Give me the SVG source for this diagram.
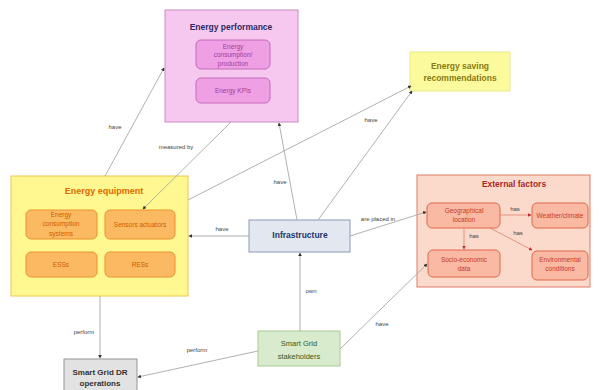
<svg xmlns="http://www.w3.org/2000/svg" width="601" height="390" viewBox="0 0 601 390">
<style>
text{font-family:"Liberation Sans",Arial,sans-serif;text-anchor:middle}
.t{font-weight:bold;font-size:8.5px}
.s{font-size:6.5px}
.l{font-size:6px;fill:#444}
.c{fill:none;stroke:#a8a8a8;stroke-width:0.9}
.r{fill:none;stroke:#e08a7a;stroke-width:0.9}
</style>
<defs>
<marker id="a" viewBox="0 0 6 6" refX="5" refY="3" markerWidth="4" markerHeight="4" orient="auto"><path d="M0,0 L6,3 L0,6 z" fill="#333"/></marker>
<marker id="ar" viewBox="0 0 6 6" refX="5" refY="3" markerWidth="4" markerHeight="4" orient="auto"><path d="M0,0 L6,3 L0,6 z" fill="#c03030"/></marker>
</defs>
<rect width="601" height="390" fill="#fff"/>

<g id="energy-performance">
<rect x="165" y="10" width="133" height="112" fill="#f7c8ef" stroke="#c98ac2"/>
<text class="t" x="231" y="30" fill="#2b2b66">Energy performance</text>
<rect x="196" y="40" width="74" height="29" rx="5" fill="#ef9fe4" stroke="#c46ab9"/>
<text class="s" x="233" y="48.5" fill="#a2409a">Energy</text>
<text class="s" x="233" y="57" fill="#a2409a">consumption/</text>
<text class="s" x="233" y="66" fill="#a2409a">production</text>
<rect x="196" y="78" width="74" height="25" rx="5" fill="#ef9fe4" stroke="#c46ab9"/>
<text class="s" x="233" y="92.5" fill="#a2409a">Energy KPIs</text>
</g>

<g id="energy-saving-recommendations">
<rect x="410" y="52" width="100" height="39" fill="#fbfa9c" stroke="#ecea8a"/>
<text class="t" x="460" y="69" fill="#8a7a10">Energy saving</text>
<text class="t" x="460" y="81" fill="#8a7a10">recommendations</text>
</g>

<g id="energy-equipment">
<rect x="11" y="176" width="177" height="120" fill="#fff78f" stroke="#f0c84a"/>
<text class="t" x="104" y="194" fill="#e06a00" style="font-size:9px">Energy equipment</text>
<rect x="26" y="210" width="71" height="29" rx="5" fill="#fbba62" stroke="#e8922e"/>
<text class="s" x="61" y="216.5" fill="#d05a00">Energy</text>
<text class="s" x="61" y="226" fill="#d05a00">consumption</text>
<text class="s" x="61" y="236" fill="#d05a00">systems</text>
<rect x="105" y="210" width="70" height="29" rx="5" fill="#fbba62" stroke="#e8922e"/>
<text class="s" x="140" y="226.5" fill="#d05a00">Sensors actuators</text>
<rect x="26" y="252" width="71" height="25" rx="5" fill="#fbba62" stroke="#e8922e"/>
<text class="s" x="61" y="267" fill="#d05a00">ESSs</text>
<rect x="105" y="252" width="70" height="25" rx="5" fill="#fbba62" stroke="#e8922e"/>
<text class="s" x="140" y="267" fill="#d05a00">RESs</text>
</g>

<g id="external-factors">
<rect x="417" y="175" width="173" height="112" fill="#fbdacb" stroke="#e07a68"/>
<text class="t" x="514" y="187" fill="#a82828">External factors</text>
<rect x="427" y="203" width="73" height="25" rx="5" fill="#f9b9a2" stroke="#e0684c"/>
<text class="s" x="464" y="212.5" fill="#c83a2a">Geographical</text>
<text class="s" x="464" y="221.5" fill="#c83a2a">location</text>
<rect x="532" y="203" width="56" height="25" rx="5" fill="#f9b9a2" stroke="#e0684c"/>
<text class="s" x="560" y="218" fill="#c83a2a">Weather/climate</text>
<rect x="428" y="250" width="72" height="27" rx="5" fill="#f9b9a2" stroke="#e0684c"/>
<text class="s" x="464" y="261.5" fill="#c83a2a">Socio-economic</text>
<text class="s" x="464" y="270.5" fill="#c83a2a">data</text>
<rect x="532" y="251" width="56" height="29" rx="5" fill="#f9b9a2" stroke="#e0684c"/>
<text class="s" x="560" y="261.5" fill="#c83a2a">Environmental</text>
<text class="s" x="560" y="271" fill="#c83a2a">conditions</text>
</g>

<g id="infrastructure">
<rect x="249" y="220" width="101" height="32" fill="#e3e8f0" stroke="#8a9ab8"/>
<text class="t" x="300" y="238" fill="#24346e">Infrastructure</text>
</g>

<g id="smart-grid-stakeholders">
<rect x="258" y="331" width="82" height="35" fill="#d8ebcd" stroke="#a6cc94"/>
<text x="299" y="345.5" fill="#355a25" style="font-size:7.5px">Smart Grid</text>
<text x="299" y="358.5" fill="#355a25" style="font-size:7.5px">stakeholders</text>
</g>

<g id="smart-grid-dr-operations">
<rect x="64" y="359" width="73" height="35" fill="#e2e2e2" stroke="#959595"/>
<text x="100" y="375" fill="#333" style="font-size:8px;font-weight:bold">Smart Grid DR</text>
<text x="100" y="386" fill="#333" style="font-size:8px;font-weight:bold">operations</text>
</g>

<g id="connectors">
<path class="c" d="M105,176 L164,68" marker-end="url(#a)"/>
<path class="c" d="M231,122 L143,209" marker-end="url(#a)"/>
<path class="c" d="M188,200 L411,86" marker-end="url(#a)"/>
<path class="c" d="M318,220 L412,91" marker-end="url(#a)"/>
<path class="c" d="M297,220 L279,123" marker-end="url(#a)"/>
<path class="c" d="M249,236 L189,236" marker-end="url(#a)"/>
<path class="c" d="M350,236 L426,212" marker-end="url(#a)"/>
<path class="c" d="M300,331 L300,253" marker-end="url(#a)"/>
<path class="c" d="M258,351 L138,377" marker-end="url(#a)"/>
<path class="c" d="M100,296 L100,358" marker-end="url(#a)"/>
<path class="c" d="M340,349 L427,264" marker-end="url(#a)"/>
<path class="r" d="M500,215 L531,215" marker-end="url(#ar)"/>
<path class="r" d="M464,228 L464,249" marker-end="url(#ar)"/>
<path class="r" d="M490,228 L532,250" marker-end="url(#ar)"/>
<text class="l" x="115" y="129">have</text>
<text class="l" x="176" y="149">measured by</text>
<text class="l" x="371" y="122">have</text>
<text class="l" x="280" y="184">have</text>
<text class="l" x="222" y="231">have</text>
<text class="l" x="378" y="221">are placed in</text>
<text class="l" x="311" y="293">own</text>
<text class="l" x="84" y="334">perform</text>
<text class="l" x="197" y="352">perform</text>
<text class="l" x="382" y="326">have</text>
<text class="l" x="515" y="211">has</text>
<text class="l" x="474" y="238">has</text>
<text class="l" x="518" y="235">has</text>
</g>
</svg>
